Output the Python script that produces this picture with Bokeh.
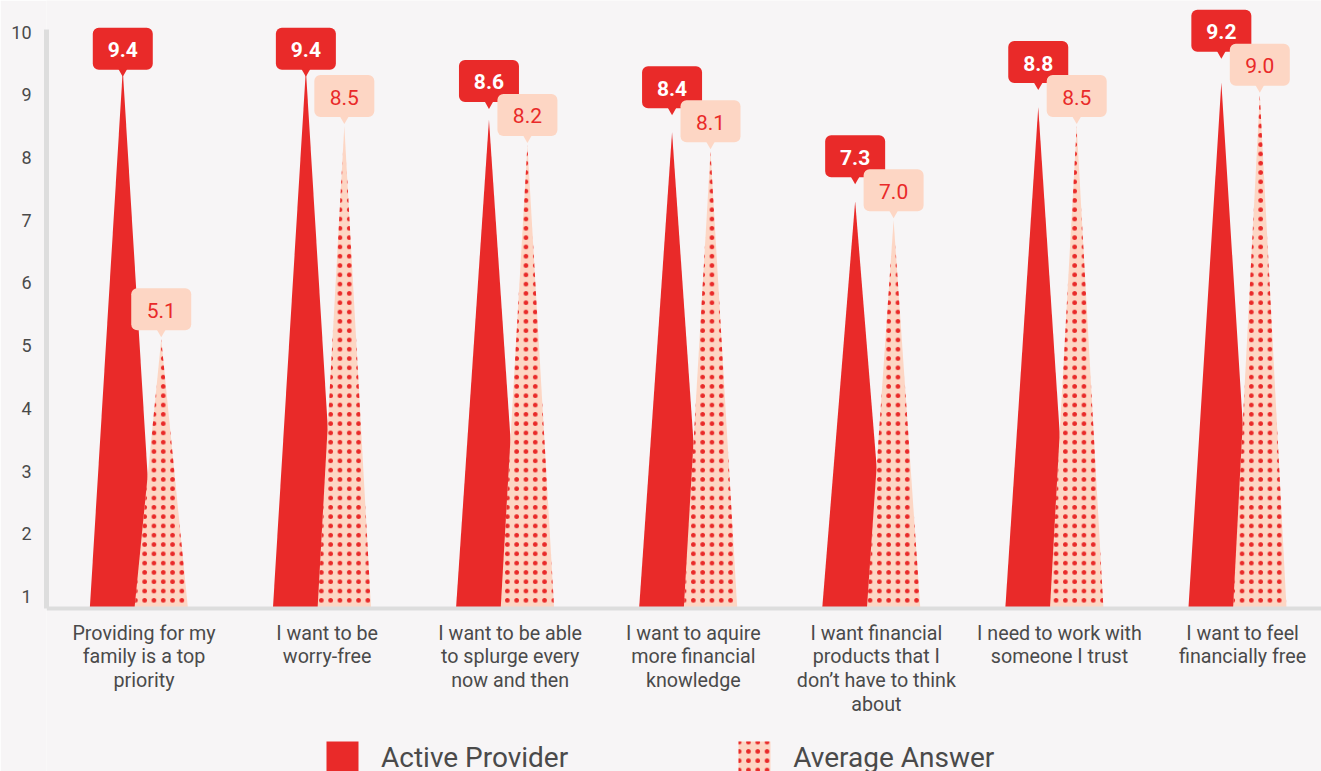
import numpy as np
from bokeh.plotting import figure
from bokeh.models import (ColumnDataSource, FixedTicker, Legend, LegendItem,
                          LinearAxis, Range1d, Span)
from bokeh.core.properties import value
from bokeh.embed import file_html
from bokeh.resources import INLINE

# ---------------- data ----------------
categories = [
    "Providing for my\nfamily is a top\npriority",
    "I want to be\nworry-free",
    "I want to be able\nto splurge every\nnow and then",
    "I want to aquire\nmore financial\nknowledge",
    "I want financial\nproducts that I\ndon\u2019t have to think\nabout",
    "I need to work with\nsomeone I trust",
    "I want to feel\nfinancially free",
]
active = [9.4, 9.4, 8.6, 8.4, 7.3, 8.8, 9.2]
average = [5.1, 8.5, 8.2, 8.1, 7.0, 8.5, 9.0]
y_ticks = [1, 2, 3, 4, 5, 6, 7, 8, 9, 10]
series_names = ["Active Provider", "Average Answer"]

# ---------------- style ----------------
RED = "#e92a29"
PINK = "#fdd6c4"
BG = "#f7f5f6"
AXIS = "#dddddd"
TEXT = "#4a4a4a"
FONT = "Roboto"

W, H = 1321, 771
ML, MT, MB, MR = 46, 0, 0, 0
frame_h = H - MT - MB

ppu = 62.72                      # px per value unit
axis_top = 10.04                 # top of the value axis
y_end = axis_top + 29 / ppu      # frame extends above the axis for labels
y_start = y_end - frame_h / ppu
BASE = axis_top - 579 / ppu      # axis baseline value
x_start, x_end = -0.5216, 6.442

off = 0.105        # cluster offset of each triangle (category units)
hw_a = 0.18        # half base width, active
hw_b = 0.146       # half base width, average
tip_gap = 2        # px between value and pointer tip (average labels)
ptr_size = 12
ptr_h = ptr_size * 0.866
box_w, box_h = 60, 42
ptr_vis = 7        # visible pointer height below box
overlap = 8        # allowed overlap of the active label over the average label

n = len(categories)
idx = np.arange(n)

p = figure(width=W, height=H,
           x_range=Range1d(x_start, x_end), y_range=Range1d(y_start, y_end),
           output_backend="svg", toolbar_location=None,
           x_axis_type=None, y_axis_type=None,
           min_border_left=ML, min_border_right=MR,
           min_border_top=MT, min_border_bottom=MB,
           background_fill_color=BG, border_fill_color=BG,
           outline_line_color=None)

# triangles
xs_a = [[i - off - hw_a, i - off, i - off + hw_a] for i in idx]
ys_a = [[BASE, v, BASE] for v in active]
xs_b = [[i + off - hw_b, i + off, i + off + hw_b] for i in idx]
ys_b = [[BASE, v, BASE] for v in average]

r_a = p.patches(xs_a, ys_a, fill_color=RED, line_color=None)
r_b = p.patches(xs_b, ys_b, fill_color=PINK, line_color=None,
                hatch_pattern=".", hatch_color=RED, hatch_scale=9.3,
                hatch_weight=1)

# baseline
p.add_layout(Span(location=BASE, dimension="width", line_color=AXIS, line_width=4))

# callouts: bottom edge of each label box (value units)
avg_bottom = [v + (tip_gap + ptr_vis) / ppu for v in average]
avg_top = [b + box_h / ppu for b in avg_bottom]
# active labels sit at their value but are lifted to avoid the average label
act_bottom = [max(v, t - overlap / ppu) for v, t in zip(active, avg_top)]


def callout(xpos, vals, bottoms, fill, tcolor, style):
    src = ColumnDataSource(dict(
        x=list(xpos),
        ptr=[b - ptr_vis / ppu + (2 * ptr_h / 3) / ppu for b in bottoms],
        box=[b + (box_h / 2) / ppu for b in bottoms],
        label=[f"{v:.1f}" for v in vals]))
    p.scatter(x="x", y="ptr", source=src, marker="inverted_triangle",
              size=ptr_size, fill_color=fill, line_color=None)
    p.rect(x="x", y="box", width=box_w, height=box_h, width_units="screen",
           height_units="screen", source=src, fill_color=fill,
           line_color=None, border_radius=6)
    p.text(x="x", y="box", text="label", source=src,
           text_font=value(FONT), text_font_size="21px",
           text_font_style=style, text_color=tcolor,
           text_align="center", text_baseline="middle", y_offset=1)


callout(idx - off, active, act_bottom, RED, "white", "bold")
callout(idx + off, average, avg_bottom, PINK, RED, "normal")

# category labels
cat_src = ColumnDataSource(dict(x=list(idx), y=[BASE] * n, label=categories))
p.text(x="x", y="y", text="label", source=cat_src,
       text_font=value(FONT), text_font_size="19.7px", text_color=TEXT,
       text_align="center", text_baseline="top", text_line_height=1.03,
       y_offset=13, x_offset=2)

# y axis
yaxis = LinearAxis(ticker=FixedTicker(ticks=y_ticks), bounds=(BASE, axis_top),
                   axis_line_color=AXIS, axis_line_width=5,
                   major_tick_line_color=None, minor_tick_line_color=None,
                   major_tick_out=0, major_tick_in=0,
                   major_label_standoff=15,
                   major_label_text_font=FONT,
                   major_label_text_font_size="18px",
                   major_label_text_color=TEXT)
p.add_layout(yaxis, "left")

legend = Legend(items=[LegendItem(label=series_names[0], renderers=[r_a]),
                       LegendItem(label=series_names[1], renderers=[r_b])],
                orientation="horizontal", location=(276, -6),
                glyph_width=40, glyph_height=40, label_height=40,
                label_standoff=19, spacing=166, padding=0, margin=0,
                label_text_font=FONT, label_text_font_size="28px",
                label_text_color=TEXT,
                background_fill_alpha=0, border_line_color=None)
p.add_layout(legend)

open("out.html", "w").write(file_html(p, INLINE))
